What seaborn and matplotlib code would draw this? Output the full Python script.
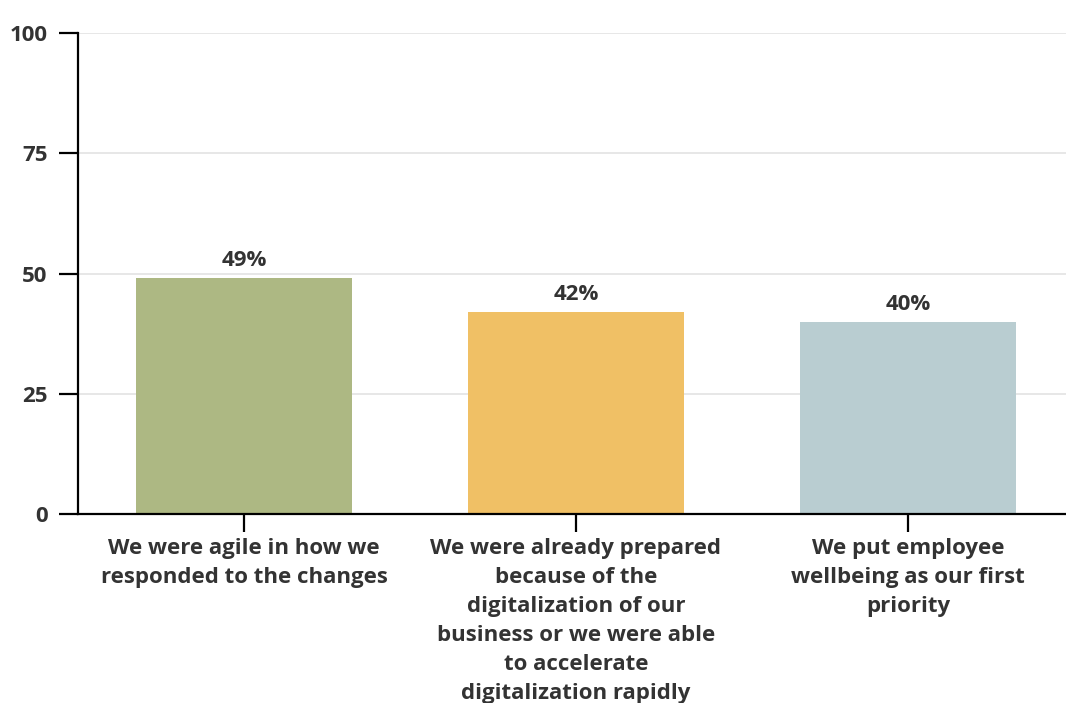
import matplotlib
matplotlib.use("Agg")
import matplotlib.pyplot as plt
import seaborn as sns
import pandas as pd

categories = [
    "We were agile in how we\nresponded to the changes",
    "We were already prepared\nbecause of the\ndigitalization of our\nbusiness or we were able\nto accelerate\ndigitalization rapidly",
    "We put employee\nwellbeing as our first\npriority",
]
values = [49, 42, 40]
bar_labels = ["49%", "42%", "40%"]
colors = ["#adb883", "#f0c065", "#b9cdd1"]
yticks = [0, 25, 50, 75, 100]

sns.set_theme(style="white")
plt.rcParams["font.family"] = ["Open Sans", "DejaVu Sans"]
plt.rcParams["font.weight"] = "bold"

df = pd.DataFrame({"cat": categories, "val": values})

fig = plt.figure(figsize=(10.66, 7.03), dpi=100)
ax = fig.add_axes([78/1066, 1 - 514/703, 996/1066, 481/703])

sns.barplot(data=df, x="cat", y="val", hue="cat", palette=colors, width=0.65,
            legend=False, ax=ax, saturation=1, linewidth=0)

ax.set_ylim(0, 100)
ax.set_xlim(-0.5, 2.5)
ax.set_yticks(yticks)
ax.set_yticklabels([str(t) for t in yticks])
ax.yaxis.grid(True, color="#e3e3e3", linewidth=1.2)
ax.set_axisbelow(True)
ax.set_xlabel("")
ax.set_ylabel("")

for s in ["top", "right"]:
    ax.spines[s].set_visible(False)
for s in ["left", "bottom"]:
    ax.spines[s].set_color("black")
    ax.spines[s].set_linewidth(1.6)

ax.tick_params(axis="y", length=14, width=1.6, color="black", pad=8,
               labelsize=16, labelcolor="#333333", left=True)
ax.tick_params(axis="x", length=13, width=1.6, color="black", pad=4,
               labelsize=16, labelcolor="#333333", bottom=True)
for lab in ax.get_xticklabels() + ax.get_yticklabels():
    lab.set_fontweight("bold")
for lab in ax.get_xticklabels():
    lab.set_linespacing(1.5)
    lab.set_verticalalignment("top")

for i, (v, t) in enumerate(zip(values, bar_labels)):
    ax.annotate(t, (i, v), xytext=(0, 5), textcoords="offset points",
                ha="center", va="bottom", fontsize=16, fontweight="bold",
                color="#333333")

fig.savefig("out.png", dpi=100)
